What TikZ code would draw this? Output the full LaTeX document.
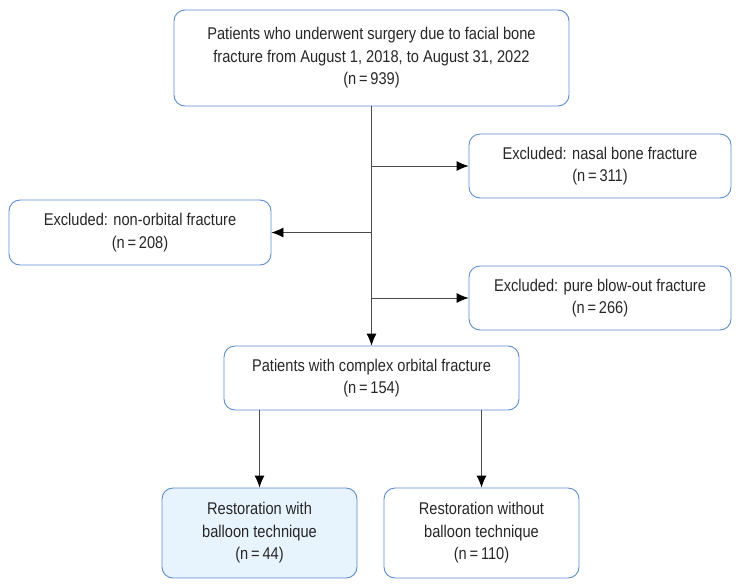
\documentclass[tikz,border=0pt]{standalone}
\usepackage{fontspec}
\setmainfont{Liberation Sans}[FakeStretch=0.86]
\usepackage{xcolor}
\usepackage{tikz}
\usetikzlibrary{arrows.meta}
\definecolor{boxline}{HTML}{5B8BCF}
\definecolor{boxfill}{HTML}{E8F4FD}
\definecolor{linegray}{HTML}{4A4A4A}

\begin{document}
\begin{tikzpicture}[x=1pt,y=1pt,
    box/.style={draw=boxline,line width=.9pt,rounded corners=11pt,align=center,
      inner sep=0pt,font=\fontsize{17}{22.5}\selectfont,text=black!85},
    arr/.style={draw=linegray,line width=.9pt,-{Latex[length=12pt,width=10pt,black]}}]
    \useasboundingbox (0,0) rectangle (741,-584);
    \node[box,minimum width=395,minimum height=96] (top) at (371.5,-58)
      {Patients who underwent surgery due to facial bone\\fracture from August 1, 2018, to August 31, 2022\\(n\,=\,939)};
    \node[box,minimum width=262,minimum height=64] (nasal) at (600,-166)
      {Excluded: nasal bone fracture\\(n\,=\,311)};
    \node[box,minimum width=262,minimum height=65] (nonorb) at (140,-232.5)
      {Excluded: non-orbital fracture\\(n\,=\,208)};
    \node[box,minimum width=262,minimum height=64] (blowout) at (600,-298)
      {Excluded: pure blow-out fracture\\(n\,=\,266)};
    \node[box,minimum width=295,minimum height=64] (complex) at (371.5,-378)
      {Patients with complex orbital fracture\\(n\,=\,154)};
    \node[box,fill=boxfill,minimum width=195,minimum height=90] (with) at (259.5,-533)
      {Restoration with\\balloon technique\\(n\,=\,44)};
    \node[box,minimum width=195,minimum height=90] (without) at (481.5,-533)
      {Restoration without\\balloon technique\\(n\,=\,110)};
    \draw[arr] (top.south) -- (complex.north);
    \draw[arr] (top.south |- nasal.west) -- (nasal.west);
    \draw[arr] (top.south |- nonorb.east) -- (nonorb.east);
    \draw[arr] (top.south |- blowout.west) -- (blowout.west);
    \draw[arr] (with.north |- complex.south) -- (with.north);
    \draw[arr] (without.north |- complex.south) -- (without.north);
  \end{tikzpicture}
\end{document}
